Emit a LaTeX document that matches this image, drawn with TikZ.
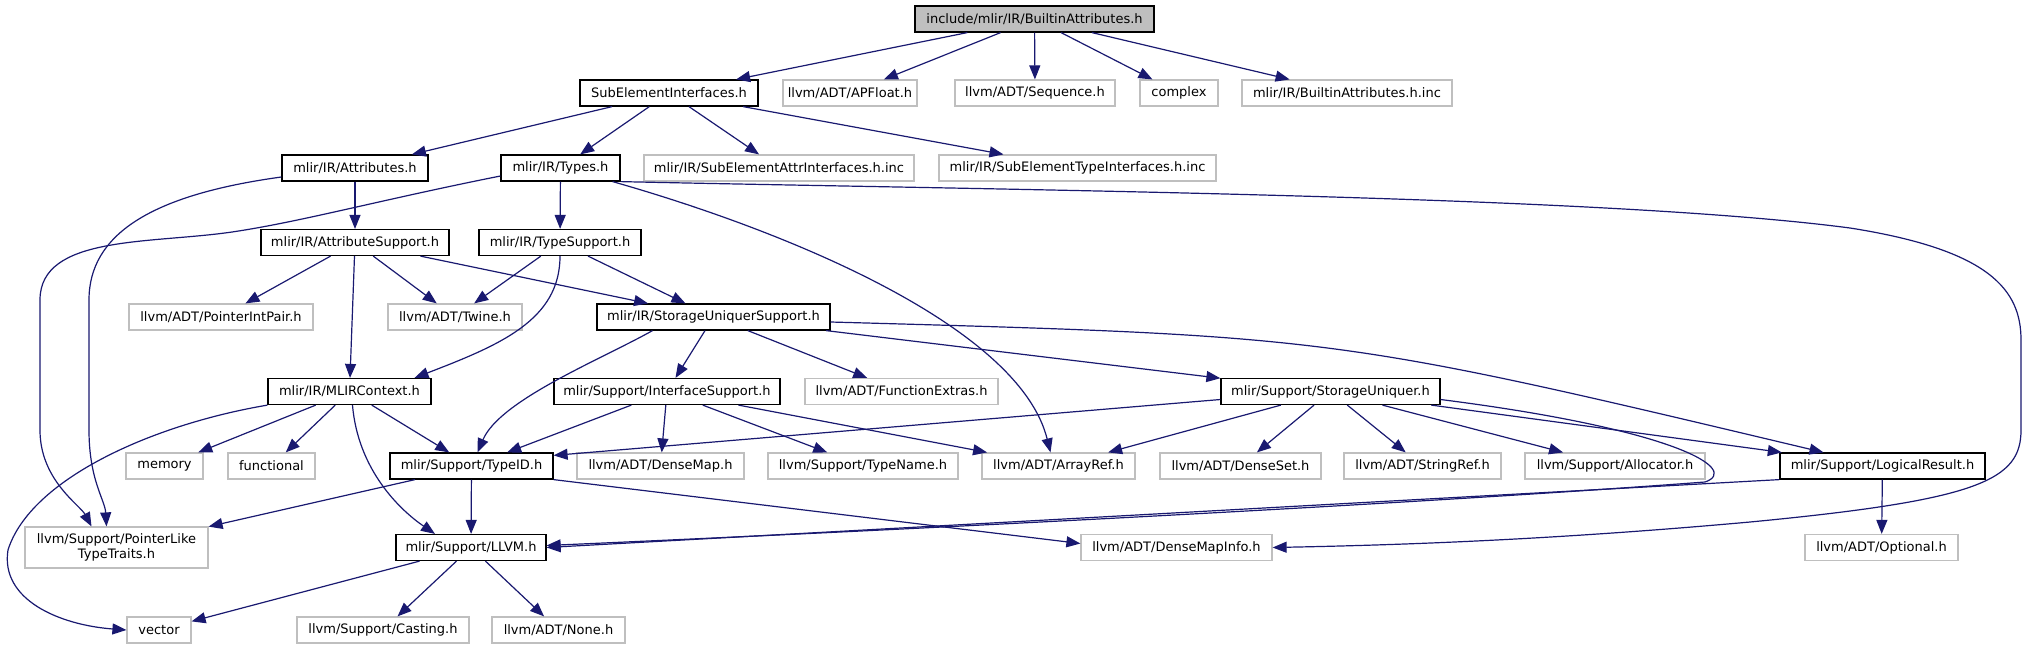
\documentclass[tikz,border=0pt]{standalone}
\usepackage{fontspec}
\setmainfont{DejaVu Sans}
\usetikzlibrary{arrows.meta}
\definecolor{edgeblue}{HTML}{191970}
\definecolor{boxgray}{HTML}{BFBFBF}
\begin{document}
\begin{tikzpicture}[x=1pt, y=-1pt,
		>={Triangle[length=14pt, width=11pt]},
		box/.style = {draw, rectangle, inner sep=0pt, minimum height=26pt, text=black, font=\fontsize{13}{15}\selectfont},
		file/.style = {box, draw=black, line width=1.2pt, minimum width=#1pt},
		ext/.style = {box, draw=boxgray, line width=1.2pt, minimum width=#1pt},
		mainfile/.style = {file=#1, fill=boxgray}]
		\tikzstyle{dep}=[edgeblue, line width=1.2pt]
		\useasboundingbox (0,0) rectangle (2029,649);
		\node (root) at (1034.5, 19) [mainfile=239] {include/mlir/IR/BuiltinAttributes.h};
		\node (sei) at (669, 93) [file=178] {SubElementInterfaces.h};
		\node (apfloat) at (850, 93) [ext=134] {llvm/ADT/APFloat.h};
		\node (sequence) at (1035, 93) [ext=160] {llvm/ADT/Sequence.h};
		\node (complex) at (1179, 93) [ext=78] {complex};
		\node (bainc) at (1347, 93) [ext=210] {mlir/IR/BuiltinAttributes.h.inc};
		\node (attributes) at (355, 168) [file=146] {mlir/IR/Attributes.h};
		\node (types) at (560.5, 168) [file=119] {mlir/IR/Types.h};
		\node (seattr) at (779, 168) [ext=270] {mlir/IR/SubElementAttrInterfaces.h.inc};
		\node (setype) at (1077.5, 168) [ext=277] {mlir/IR/SubElementTypeInterfaces.h.inc};
		\node (attrsupport) at (355, 242.5) [file=188] {mlir/IR/AttributeSupport.h};
		\node (typesupport) at (560, 242.5) [file=162] {mlir/IR/TypeSupport.h};
		\node (pip) at (221, 317) [ext=184] {llvm/ADT/PointerIntPair.h};
		\node (twine) at (455, 317) [ext=134] {llvm/ADT/Twine.h};
		\node (sus) at (713.5, 317) [file=233] {mlir/IR/StorageUniquerSupport.h};
		\node (mlirctx) at (349.5, 391.5) [file=163] {mlir/IR/MLIRContext.h};
		\node (ifsupport) at (667, 391.5) [file=226] {mlir/Support/InterfaceSupport.h};
		\node (funcext) at (901.5, 391.5) [ext=193] {llvm/ADT/FunctionExtras.h};
		\node (su) at (1330.5, 391.5) [file=219] {mlir/Support/StorageUniquer.h};
		\node (memory) at (164.5, 466) [ext=77] {memory};
		\node (functional) at (271.5, 466) [ext=87] {functional};
		\node (typeid) at (471.5, 466) [file=163] {mlir/Support/TypeID.h};
		\node (densemap) at (660.5, 466) [ext=167] {llvm/ADT/DenseMap.h};
		\node (typename) at (863, 466) [ext=190] {llvm/Support/TypeName.h};
		\node (arrayref) at (1058.5, 466) [ext=153] {llvm/ADT/ArrayRef.h};
		\node (denseset) at (1240.5, 466) [ext=161] {llvm/ADT/DenseSet.h};
		\node (stringref) at (1422.5, 466) [ext=157] {llvm/ADT/StringRef.h};
		\node (allocator) at (1615, 466) [ext=180] {llvm/Support/Allocator.h};
		\node (logical) at (1882.5, 466) [file=205] {mlir/Support/LogicalResult.h};
		\node (ptrlike) at (116.5, 547.5) [ext=183, minimum height=41pt, align=center] {llvm/Support/PointerLike\\TypeTraits.h};
		\node (llvm) at (471, 547.5) [file=150] {mlir/Support/LLVM.h};
		\node (densemapinfo) at (1176.5, 547.5) [ext=191] {llvm/ADT/DenseMapInfo.h};
		\node (optional) at (1881.5, 547.5) [ext=153] {llvm/ADT/Optional.h};
		\node (vector) at (159, 630) [ext=64] {vector};
		\node (casting) at (383, 630) [ext=172] {llvm/Support/Casting.h};
		\node (none) at (558.5, 630) [ext=133] {llvm/ADT/None.h};
		\draw[dep, ->] (root) -- (sei);
		\draw[dep, ->] (root) -- (apfloat);
		\draw[dep, ->] (root) -- (sequence);
		\draw[dep, ->] (root) -- (complex);
		\draw[dep, ->] (root) -- (bainc);
		\draw[dep, ->] (sei) -- (attributes);
		\draw[dep, ->] (sei) -- (types);
		\draw[dep, ->] (sei) -- (seattr);
		\draw[dep, ->] (sei) -- (setype);
		\draw[dep, ->] (attributes) -- (attrsupport);
		\draw[dep, ->] ([yshift=-9pt]attributes.west) .. controls (150,195) and (89,235) .. (89,300) -- (89,430) .. controls (89,480) and (105,500) .. ([xshift=-10pt]ptrlike.north);
		\draw[dep, ->] (types) -- (typesupport);
		\draw[dep, ->] ([yshift=-8pt]types.west) .. controls (380,200) and (300,222) .. (232,232) .. controls (150,244) and (40,235) .. (40,300) -- (40,430) .. controls (40,480) and (80,505) .. ([xshift=-25pt]ptrlike.north);
		\draw[dep, ->] ([xshift=-8pt]types.south east) .. controls (800,235) and (1020,330) .. ([xshift=-8pt]arrayref.north);
		\draw[dep, ->] (types.south east) .. controls (1000,190) and (1600,195) .. (1850,228) .. controls (1990,250) and (2021,290) .. (2021,340) -- (2021,430) .. controls (2021,480) and (1980,500) .. (1750,522) .. controls (1550,540) and (1400,545) .. (densemapinfo.east);
		\draw[dep, ->] (attrsupport) -- (pip);
		\draw[dep, ->] (attrsupport) -- (twine);
		\draw[dep, ->] (attrsupport) -- (mlirctx);
		\draw[dep, ->] (attrsupport) -- (sus);
		\draw[dep, ->] (typesupport) -- (twine);
		\draw[dep, ->] (typesupport) -- (sus);
		\draw[dep, ->] (typesupport.south) .. controls (560,320) and (500,345) .. ([xshift=65pt]mlirctx.north);
		\draw[dep, ->] (sus) -- (ifsupport);
		\draw[dep, ->] (sus) -- (funcext);
		\draw[dep, ->] (sus) -- (su);
		\draw[dep, ->] ([yshift=-5pt]sus.east) .. controls (1334,336) .. ([xshift=-59pt]logical.north);
		\draw[dep, ->] ([xshift=-61pt]sus.south) .. controls (600,360) and (500,400) .. ([xshift=6pt]typeid.north);
		\draw[dep, ->] (mlirctx.south west) .. controls (150,425) and (30,480) .. (8,550) .. controls (0,600) and (60,625) .. (vector.west);
		\draw[dep, ->] (mlirctx) -- (memory);
		\draw[dep, ->] (mlirctx) -- (functional);
		\draw[dep, ->] (mlirctx) -- (typeid);
		\draw[dep, ->] ([xshift=3pt]mlirctx.south) .. controls (358,470) and (400,510) .. ([xshift=-36pt]llvm.north);
		\draw[dep, ->] (ifsupport) -- (typeid);
		\draw[dep, ->] (ifsupport) -- (densemap);
		\draw[dep, ->] (ifsupport) -- (typename);
		\draw[dep, ->] (ifsupport) -- (arrayref);
		\draw[dep, ->] ([yshift=-8pt]su.west) -- ([yshift=-3pt]typeid.north east);
		\draw[dep, ->] (su) -- (arrayref);
		\draw[dep, ->] (su) -- (denseset);
		\draw[dep, ->] (su) -- (stringref);
		\draw[dep, ->] (su) -- (allocator);
		\draw[dep, ->] (su) -- (logical);
		\draw[dep, ->] ([yshift=-8pt]su.east) .. controls (1680,430) and (1740,470) .. (1705,482) .. controls (1400,505) and (900,530) .. ([yshift=2pt]llvm.east);
		\draw[dep, ->] (logical.south west) -- (llvm.east);
		\draw[dep, ->] (logical) -- (optional);
		\draw[dep, ->] (typeid.south -| 415,0) -- (ptrlike);
		\draw[dep, ->] (typeid) -- (llvm);
		\draw[dep, ->] (typeid.south east) -- ([yshift=4pt]densemapinfo.west);
		\draw[dep, ->] (llvm) -- (vector);
		\draw[dep, ->] (llvm) -- (casting);
		\draw[dep, ->] (llvm) -- (none);
\end{tikzpicture}
\end{document}
